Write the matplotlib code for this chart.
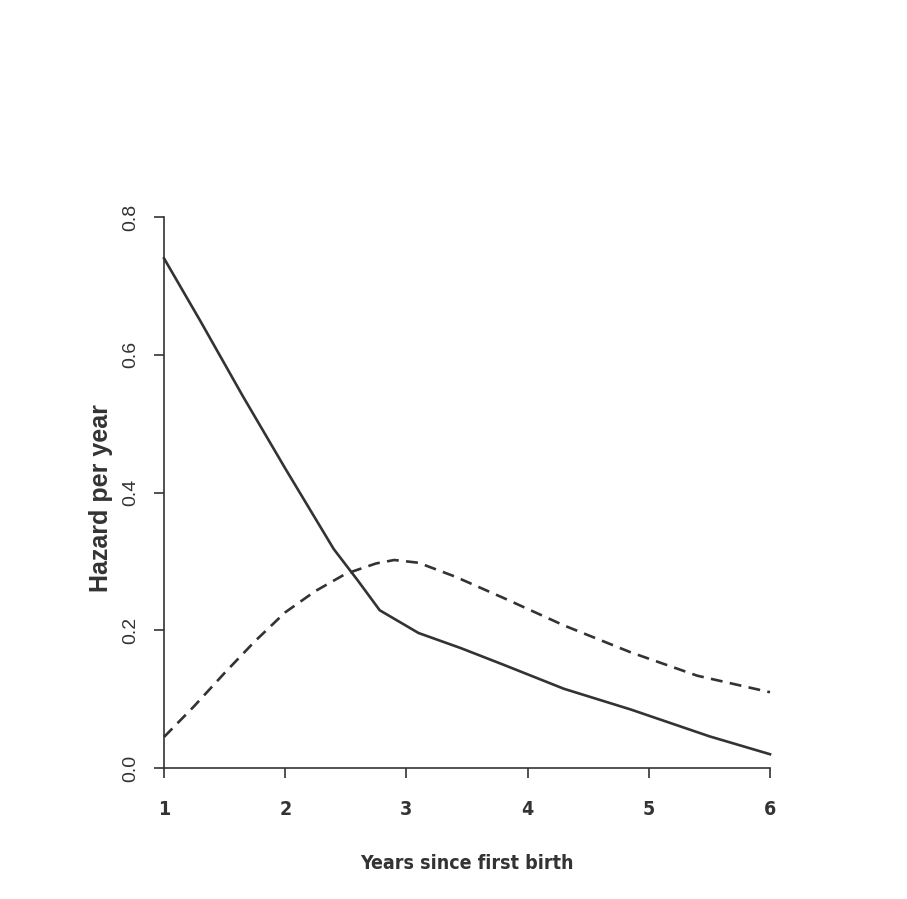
import matplotlib
matplotlib.use("Agg")
import matplotlib.pyplot as plt
from matplotlib.font_manager import FontProperties

# Data
years_solid = [1.0, 1.3, 1.65, 2.0, 2.4, 2.6, 2.78, 3.1, 3.45, 3.8, 4.3, 4.85, 5.5, 6.0]
hazard_solid = [0.740, 0.649, 0.540, 0.435, 0.318, 0.272, 0.229, 0.196, 0.174, 0.150, 0.115, 0.085, 0.046, 0.020]

years_dashed = [1.0, 1.25, 1.5, 1.75, 2.0, 2.25, 2.5, 2.75, 2.9, 3.1, 3.4, 3.8, 4.3, 4.85, 5.4, 6.0]
hazard_dashed = [0.045, 0.090, 0.138, 0.184, 0.226, 0.257, 0.282, 0.297, 0.302, 0.298, 0.278, 0.247, 0.207, 0.168, 0.134, 0.110]

x_ticks = [1, 2, 3, 4, 5, 6]
y_ticks = [0.0, 0.2, 0.4, 0.6, 0.8]
y_tick_labels = ["0.0", "0.2", "0.4", "0.6", "0.8"]

ink = "#333333"
cond = dict(family="DejaVu Sans", stretch="condensed", weight="bold")

W, H = 907, 899
fig = plt.figure(figsize=(W / 100, H / 100), dpi=100)
fig.patch.set_facecolor("white")
ax = fig.add_axes([164 / W, 1 - 768 / H, (770 - 164) / W, (768 - 217) / H])

ax.plot(years_solid, hazard_solid, color=ink, lw=1.9, solid_joinstyle="round", clip_on=False)
ax.plot(years_dashed, hazard_dashed, color=ink, lw=1.9, dashes=(4.5, 2.8), clip_on=False)

ax.set_xlim(1, 6)
ax.set_ylim(0, 0.8)
for s in ["top", "right"]:
    ax.spines[s].set_visible(False)
for s in ["left", "bottom"]:
    ax.spines[s].set_color(ink)
    ax.spines[s].set_linewidth(1.2)

ax.set_xticks(x_ticks)
ax.set_xticklabels([str(t) for t in x_ticks], fontproperties=FontProperties(size=14, **cond), color=ink)
ax.set_yticks(y_ticks)
ax.set_yticklabels(y_tick_labels, rotation=90, va="center",
                   fontproperties=FontProperties(family="Liberation Sans", size=14), color=ink)
ax.tick_params(axis="both", direction="out", length=7, width=1.2, color=ink)
ax.tick_params(axis="x", pad=16)
ax.tick_params(axis="y", pad=11)

ax.set_xlabel("Years since first birth", fontproperties=FontProperties(size=14, **cond),
              color=ink, labelpad=25)
ax.set_ylabel("Hazard per year", fontproperties=FontProperties(family="Liberation Sans", weight="bold", size=18),
              color=ink)
ax.yaxis.set_label_coords(-0.084, 0.49)

fig.savefig("out.png", dpi=100, facecolor="white")
